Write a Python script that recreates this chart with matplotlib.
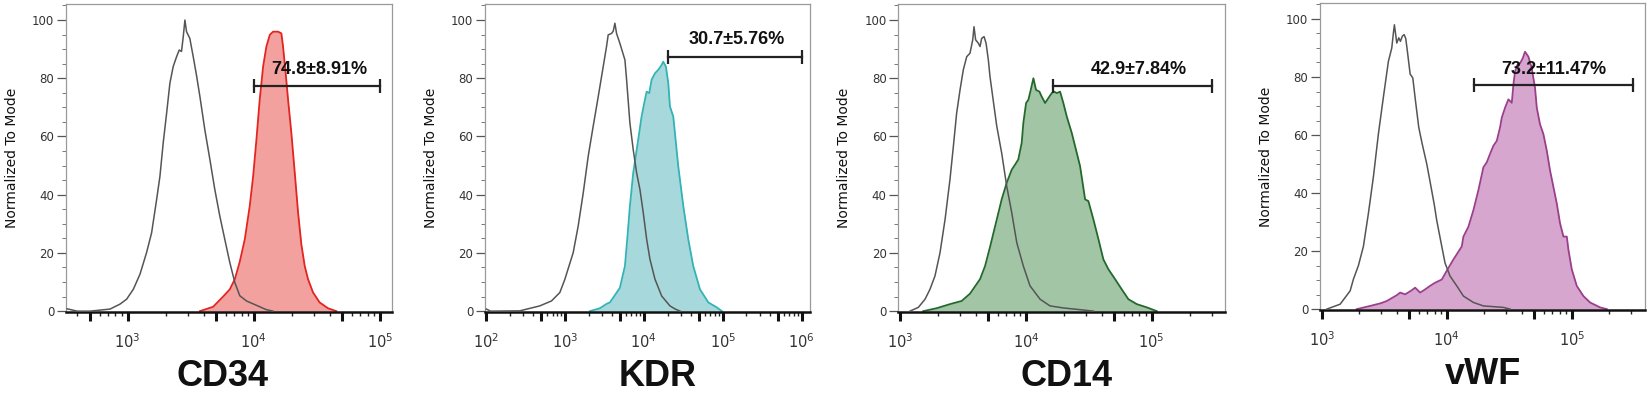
import numpy as np
import matplotlib
matplotlib.use("Agg")
import matplotlib.pyplot as plt
from matplotlib.ticker import LogLocator, FuncFormatter, MultipleLocator

plt.rcParams['mathtext.default'] = 'regular'

# marker names under each panel
markers = ["CD34", "KDR", "CD14", "vWF"]
gate_text = ["74.8±8.91%", "30.7±5.76%", "42.9±7.84%", "73.2±11.47%"]

# gate bars (log10 intensity) and their height (% of mode)
gate_lo_log = [4.0, 4.31, 4.214, 4.218]
gate_hi_log = [5.0, 6.01, 5.483, 5.493]
gate_y = [77.2, 87.4, 77.2, 77.4]
text_x_log = [4.52, 5.18, 4.894, 4.853]
text_y = [82.9, 93.2, 82.9, 82.5]

# CD34 - isotype (gray) and stained (red)
cd34_gray_log = [2.52, 2.60, 2.702, 2.860, 2.939, 2.992, 3.045, 3.098, 3.150, 3.190,
                 3.230, 3.256, 3.282, 3.309, 3.335, 3.361, 3.388, 3.409, 3.427, 3.441,
                 3.454, 3.467, 3.493, 3.520, 3.546, 3.573, 3.612, 3.652, 3.691, 3.731,
                 3.770, 3.810, 3.850, 3.889, 3.942, 4.021, 4.100, 4.153]
cd34_gray = [0.8, 0.0, 0.0, 0.7, 2.4, 4.1, 7.5, 12.7, 20.1, 26.9,
             38.4, 46.3, 57.8, 68.0, 78.3, 84.0, 87.4, 89.7, 89.2, 94.3,
             100.0, 96.0, 93.7, 87.4, 81.0, 73.7, 62.3, 52.1, 41.8, 32.6,
             24.7, 16.7, 9.8, 5.3, 3.5, 2.0, 0.5, 0.0]
cd34_pos_log = [3.573, 3.678, 3.757, 3.810, 3.850, 3.889, 3.929, 3.968, 3.995, 4.021,
                4.047, 4.074, 4.100, 4.127, 4.153, 4.193, 4.219, 4.232, 4.253, 4.272,
                4.298, 4.325, 4.351, 4.377, 4.404, 4.430, 4.470, 4.522, 4.588, 4.654]
cd34_pos = [0.0, 1.5, 5.0, 7.5, 11.0, 17.0, 24.7, 36.1, 46.3, 58.9,
            72.6, 84.0, 90.9, 94.9, 96.0, 96.0, 95.4, 90.9, 81.7, 72.6,
            61.2, 47.5, 34.0, 23.0, 15.5, 11.0, 6.4, 3.0, 1.0, 0.0]

# KDR
kdr_gray_log = [2.008, 2.06, 2.431, 2.684, 2.832, 2.938, 3.001, 3.107, 3.170, 3.234,
                3.297, 3.360, 3.424, 3.487, 3.529, 3.550, 3.593, 3.614, 3.635, 3.656,
                3.698, 3.762, 3.783, 3.825, 3.867, 3.910, 3.952, 3.994, 4.037, 4.079,
                4.142, 4.227, 4.332, 4.400, 4.460]
kdr_gray = [0.7, 0.0, 0.1, 1.8, 3.5, 6.4, 10.9, 20.1, 29.2, 40.6,
            53.2, 63.5, 73.7, 84.0, 90.9, 94.9, 95.4, 96.2, 98.9, 95.4,
            92.0, 86.3, 79.5, 64.6, 55.5, 47.5, 41.8, 33.8, 24.7, 17.8,
            11.0, 5.2, 1.8, 0.7, 0.0]
kdr_pos_log = [3.318, 3.445, 3.530, 3.572, 3.635, 3.698, 3.762, 3.795, 3.825, 3.867,
               3.930, 3.973, 4.015, 4.037, 4.070, 4.100, 4.142, 4.184, 4.227, 4.247,
               4.281, 4.311, 4.332, 4.374, 4.437, 4.501, 4.564, 4.627, 4.712, 4.818,
               4.924, 4.990]
kdr_pos = [0.0, 1.0, 2.5, 3.0, 5.5, 8.0, 15.5, 26.0, 36.1, 47.5,
           58.9, 66.9, 72.6, 75.4, 74.9, 79.5, 81.7, 82.9, 84.6, 85.7,
           84.0, 78.3, 70.3, 66.9, 49.8, 36.1, 24.7, 15.5, 7.5, 3.0,
           1.3, 0.0]

# CD14
cd14_gray_log = [3.079, 3.146, 3.199, 3.238, 3.278, 3.318, 3.358, 3.397, 3.424, 3.450,
                 3.477, 3.503, 3.530, 3.556, 3.578, 3.588, 3.601, 3.623, 3.636, 3.649,
                 3.668, 3.684, 3.702, 3.715, 3.742, 3.769, 3.808, 3.848, 3.888, 3.928,
                 3.980, 4.033, 4.113, 4.192, 4.298, 4.431, 4.537]
cd14_gray = [0.0, 1.3, 4.1, 7.5, 12.1, 20.1, 31.5, 45.2, 56.6, 68.0,
             76.0, 82.9, 87.4, 88.6, 93.2, 97.7, 93.2, 92.0, 90.9, 93.7,
             94.3, 92.0, 86.3, 80.6, 72.0, 63.5, 54.3, 42.9, 33.8, 23.5,
             15.5, 8.7, 4.1, 1.8, 1.1, 0.5, 0.0]
cd14_pos_log = [3.185, 3.291, 3.397, 3.490, 3.556, 3.636, 3.676, 3.715, 3.769, 3.808,
                3.848, 3.888, 3.914, 3.940, 3.967, 3.980, 4.002, 4.020, 4.039, 4.060,
                4.081, 4.108, 4.126, 4.153, 4.179, 4.206, 4.224, 4.246, 4.272, 4.298,
                4.325, 4.365, 4.405, 4.431, 4.471, 4.497, 4.537, 4.577, 4.616, 4.656,
                4.709, 4.762, 4.815, 4.882, 4.961, 5.040]
cd14_pos = [0.0, 1.0, 2.4, 3.5, 6.0, 11.0, 15.5, 22.0, 31.5, 38.4,
            44.1, 48.6, 50.3, 52.1, 57.8, 64.6, 71.5, 72.6, 76.0, 80.0,
            76.0, 75.4, 73.7, 71.5, 73.2, 74.9, 75.4, 74.9, 75.4, 71.5,
            66.9, 61.2, 54.3, 49.8, 38.4, 37.8, 31.5, 24.7, 17.8, 14.4,
            11.0, 7.5, 4.1, 2.4, 1.3, 0.0]

# vWF
vwf_gray_log = [3.040, 3.147, 3.227, 3.253, 3.293, 3.333, 3.373, 3.413, 3.453, 3.493,
                3.533, 3.560, 3.573, 3.581, 3.600, 3.616, 3.629, 3.645, 3.659, 3.672,
                3.685, 3.707, 3.728, 3.749, 3.776, 3.803, 3.840, 3.866, 3.900, 3.920,
                3.960, 3.986, 4.026, 4.080, 4.133, 4.213, 4.293, 4.453, 4.507]
vwf_gray = [0.0, 1.7, 6.3, 10.3, 15.0, 21.6, 33.0, 45.6, 60.4, 73.1,
            85.4, 90.0, 95.2, 98.0, 91.7, 93.5, 92.3, 94.1, 94.6, 93.2,
            88.8, 81.0, 79.7, 72.0, 62.6, 57.0, 50.0, 44.0, 36.0, 30.5,
            21.6, 15.9, 11.4, 8.0, 4.5, 2.3, 1.1, 0.6, 0.0]
vwf_pos_log = [3.280, 3.387, 3.470, 3.520, 3.600, 3.627, 3.667, 3.720, 3.747, 3.787,
               3.827, 3.866, 3.907, 3.960, 4.013, 4.053, 4.120, 4.133, 4.173, 4.213,
               4.253, 4.293, 4.320, 4.346, 4.373, 4.400, 4.426, 4.440, 4.466, 4.493,
               4.520, 4.533, 4.546, 4.565, 4.586, 4.608, 4.626, 4.653, 4.680, 4.706,
               4.720, 4.746, 4.773, 4.800, 4.826, 4.853, 4.880, 4.906, 4.933, 4.960,
               4.973, 5.000, 5.040, 5.093, 5.146, 5.226, 5.280]
vwf_pos = [0.0, 1.1, 2.0, 2.8, 4.8, 5.7, 5.1, 6.5, 7.4, 5.7,
           6.8, 8.0, 9.1, 10.2, 14.2, 17.1, 21.6, 25.0, 28.4, 34.1,
           41.0, 48.9, 50.6, 53.5, 56.3, 58.0, 62.6, 66.0, 69.4, 72.3,
           71.1, 77.4, 81.9, 84.2, 84.7, 86.5, 88.7, 87.0, 83.0, 76.2,
           69.4, 63.7, 60.3, 54.6, 47.8, 42.1, 36.4, 29.6, 25.0, 25.0,
           20.5, 13.7, 8.0, 4.5, 2.3, 0.6, 0.0]

gray_series = [(cd34_gray_log, cd34_gray), (kdr_gray_log, kdr_gray),
               (cd14_gray_log, cd14_gray), (vwf_gray_log, vwf_gray)]
pos_series = [(cd34_pos_log, cd34_pos), (kdr_pos_log, kdr_pos),
              (cd14_pos_log, cd14_pos), (vwf_pos_log, vwf_pos)]

line_colors = ["#e3241f", "#33b3b6", "#24692c", "#9a3f8b"]
fill_colors = ["#f2a19f", "#a7d8dc", "#a2c5a6", "#d7a6ce"]

# axes boxes in figure fractions, and x limits (log10)
boxes = [[0.0400, 0.2101, 0.1975, 0.7797],
         [0.2941, 0.2101, 0.1971, 0.7797],
         [0.5448, 0.2101, 0.1981, 0.7797],
         [0.8005, 0.2152, 0.1971, 0.7772]]
xlims = [(2.511, 5.093), (1.99, 6.105), (2.987, 5.583), (2.986, 5.586)]
name_x = [0.48, 0.53, 0.515, 0.50]


def decade_label(v, pos):
    e = np.log10(v)
    if abs(e - round(e)) < 1e-6:
        return r"$10^{%d}$" % round(e)
    return ""


fig = plt.figure(figsize=(16.49, 3.95), dpi=100)

for i in range(4):
    ax = fig.add_axes(boxes[i])
    ax.set_xscale("log")
    gx, gy = gray_series[i]
    px, py = pos_series[i]
    px = 10 ** np.array(px)
    gx = 10 ** np.array(gx)

    ax.fill_between(px, py, 0, color=fill_colors[i], lw=0, zorder=1)
    ax.plot(px, py, color=line_colors[i], lw=1.3, zorder=2)
    ax.plot(gx, gy, color="#555555", lw=1.1, zorder=3)

    # gate bar
    ax.plot([10 ** gate_lo_log[i], 10 ** gate_hi_log[i]], [gate_y[i], gate_y[i]],
            color="#222222", lw=1.6, marker="|", markersize=10, mew=1.6, zorder=4)
    ax.text(10 ** text_x_log[i], text_y[i], gate_text[i], ha="center", va="center",
            fontsize=13, fontweight="bold", family="Liberation Sans", color="#111111",
            zorder=5)

    ax.set_xlim(10 ** xlims[i][0], 10 ** xlims[i][1])
    ax.set_ylim(-0.3, 105.5)

    ax.xaxis.set_major_locator(LogLocator(base=10, subs=(1.0, 5.0)))
    ax.xaxis.set_major_formatter(FuncFormatter(decade_label))
    ax.xaxis.set_minor_locator(LogLocator(base=10, subs=(2, 3, 4, 6, 7, 8, 9)))
    ax.xaxis.set_minor_formatter(FuncFormatter(lambda v, p: ""))
    ax.tick_params(axis="x", which="major", direction="out", length=6.5, width=2.2,
                   color="#111111", pad=8, labelsize=10.5, labelcolor="#333333")
    ax.tick_params(axis="x", which="minor", direction="out", length=3, width=1,
                   color="#222222")

    ax.set_yticks([0, 20, 40, 60, 80, 100])
    ax.yaxis.set_minor_locator(MultipleLocator(5))
    ax.tick_params(axis="y", which="major", direction="out", length=6.5, width=0.9,
                   color="#555555", labelsize=8.5, labelcolor="#333333", pad=2)
    ax.tick_params(axis="y", which="minor", direction="out", length=3, width=0.7,
                   color="#777777")
    for lab in ax.get_yticklabels():
        lab.set_family("DejaVu Sans")

    for side in ["top", "right", "left"]:
        ax.spines[side].set_color("#9a9a9a")
        ax.spines[side].set_linewidth(0.9)
    ax.spines["bottom"].set_color("#111111")
    ax.spines["bottom"].set_linewidth(1.8)

    ax.text(-0.166, 0.5, "Normalized To Mode", rotation=90, ha="center", va="center",
            transform=ax.transAxes, fontsize=10, family="DejaVu Sans", color="#111111")
    ax.text(name_x[i], -0.211, markers[i], ha="center", va="center",
            transform=ax.transAxes, fontsize=26, fontweight="bold",
            family="Liberation Sans", color="#111111")

fig.savefig("out.png", dpi=100)
